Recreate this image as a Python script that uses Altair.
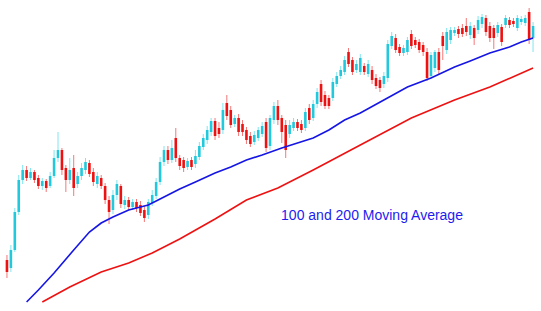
import altair as alt
import pandas as pd

opens = [51,43,61,99,131,141,133,139,133,125,130,125,135,153,161,143,131,143,127,135,
         141,148,139,127,133,125,111,101,116,125,106,111,104,109,106,101,96,108,115,129,
         149,161,151,173,153,151,144,151,147,154,164,171,179,190,183,181,208,201,187,193,
         187,181,175,169,173,177,189,165,191,205,193,186,177,183,189,187,183,203,193,207,
         227,216,213,213,227,235,239,259,251,241,239,245,237,241,233,231,227,233,265,273,
         264,258,259,277,271,269,266,259,235,243,259,275,261,271,278,282,283,285,276,283,
         281,287,293,285,283,278,284,286,291,290,283,289,288,299,273]
closes = [39,61,99,131,141,133,139,131,125,130,123,135,153,161,141,131,141,123,135,143,
          149,137,129,135,125,111,99,116,127,107,111,104,109,103,98,93,109,116,129,149,
          161,151,163,153,145,143,150,144,155,165,173,181,190,175,177,201,195,186,193,179,
          179,171,167,176,181,185,163,193,205,191,179,161,186,189,183,181,199,191,207,219,
          209,205,205,229,235,241,251,247,239,247,253,239,247,231,225,223,235,267,275,261,
          258,263,271,265,266,261,259,233,256,259,241,265,279,281,281,277,277,279,285,273,
          291,294,279,273,273,286,269,293,286,287,293,292,293,271,285]
highs = [56,66,103,136,146,145,143,141,136,133,132,139,161,179,163,146,153,156,139,148,
         153,151,143,139,136,128,115,121,131,127,115,114,112,112,110,105,112,121,133,154,
         165,165,171,183,156,154,153,154,161,169,177,185,193,193,189,208,216,205,196,197,
         191,184,179,180,184,189,193,196,209,211,196,191,191,193,192,191,203,207,211,223,
         231,220,216,233,239,245,255,263,254,251,257,248,251,245,237,234,239,271,279,277,
         267,266,274,281,274,272,269,263,259,261,263,279,283,284,284,285,287,293,289,286,
         295,297,296,289,286,289,287,296,294,293,296,295,296,303,289]
lows = [33,39,59,96,127,130,131,128,122,121,119,123,133,149,136,119,127,115,123,131,
        137,134,125,123,122,107,87,97,111,103,102,101,101,99,95,89,92,105,112,126,
        145,147,148,149,141,139,141,141,143,151,161,167,175,171,173,177,191,183,184,175,
        175,167,164,166,170,174,159,161,187,186,168,153,173,180,180,178,180,187,190,203,
        205,202,202,210,224,232,236,244,236,238,236,236,234,227,222,219,223,229,262,258,
        255,255,256,262,263,258,255,230,232,239,237,251,257,267,275,273,274,275,272,266,
        277,283,275,269,262,274,265,283,283,284,280,286,285,267,259]

ma100_idx = [5,8,12,17,21,24,27,31,36,39,44,48,53,57,61,65,70,74,78,82,86,90,96,102,108,114,118,123,128,131,134]
ma100_val = [9,21,38,61,79,88,94,101,106,112,122,129,138,144,151,156,163,168,173,181,191,198,211,224,233,244,250,258,264,269,273]

ma200_idx = [9,16,24,31,37,44,53,61,69,78,90,103,114,123,134]
ma200_val = [9,24,39,48,58,72,92,111,123,141,166,193,211,224,243]

label_text = "100 and 200 Moving Average"

df = pd.DataFrame({"i": list(range(len(opens))), "open": opens, "close": closes,
                   "high": highs, "low": lows})
df["dir"] = ["up" if c >= o else "down" for o, c in zip(opens, closes)]

ma = pd.DataFrame({"i": ma100_idx + ma200_idx,
                   "v": ma100_val + ma200_val,
                   "s": ["MA100"] * len(ma100_idx) + ["MA200"] * len(ma200_idx)})

xs = alt.Scale(domain=[-0.5, 134.75], nice=False, zero=False)
ys = alt.Scale(domain=[0, 311], nice=False, zero=False)

body_color = alt.Color("dir:N", scale=alt.Scale(domain=["up", "down"], range=["#22C8DC", "#EE1111"]), legend=None)
wick_color = alt.Color("dir:N", scale=alt.Scale(domain=["up", "down"], range=["#7FE6F0", "#F47878"]), legend=None)

base = alt.Chart(df)
wicks = base.mark_rule(strokeWidth=1).encode(
    x=alt.X("i:Q", scale=xs, axis=None),
    y=alt.Y("low:Q", scale=ys, axis=None),
    y2="high:Q",
    color=wick_color,
)
bodies = base.mark_bar(size=2.6).encode(
    x=alt.X("i:Q", scale=xs, axis=None),
    y=alt.Y("open:Q", scale=ys, axis=None),
    y2="close:Q",
    color=body_color,
)
lines = alt.Chart(ma).mark_line(strokeWidth=1.6).encode(
    x=alt.X("i:Q", scale=xs, axis=None),
    y=alt.Y("v:Q", scale=ys, axis=None),
    detail="s:N",
    stroke=alt.Stroke("s:N", scale=alt.Scale(domain=["MA100", "MA200"], range=["#1515E6", "#EE1111"]), legend=None),
)
label = alt.Chart(pd.DataFrame({"t": [label_text]})).mark_text(
    font="Liberation Sans", fontSize=14, color="#1C1CF0", align="center", baseline="alphabetic"
).encode(text="t:N", x=alt.value(372), y=alt.value(220))

chart = alt.layer(wicks, bodies, lines, label).resolve_scale(color="independent").properties(
    width=541, height=311,
    autosize=alt.AutoSizeParams(type="fit", contains="padding"),
    padding=0,
    background="white",
).configure_view(stroke=None)

chart.save("out.html", embed_options={"renderer": "svg", "actions": False})
